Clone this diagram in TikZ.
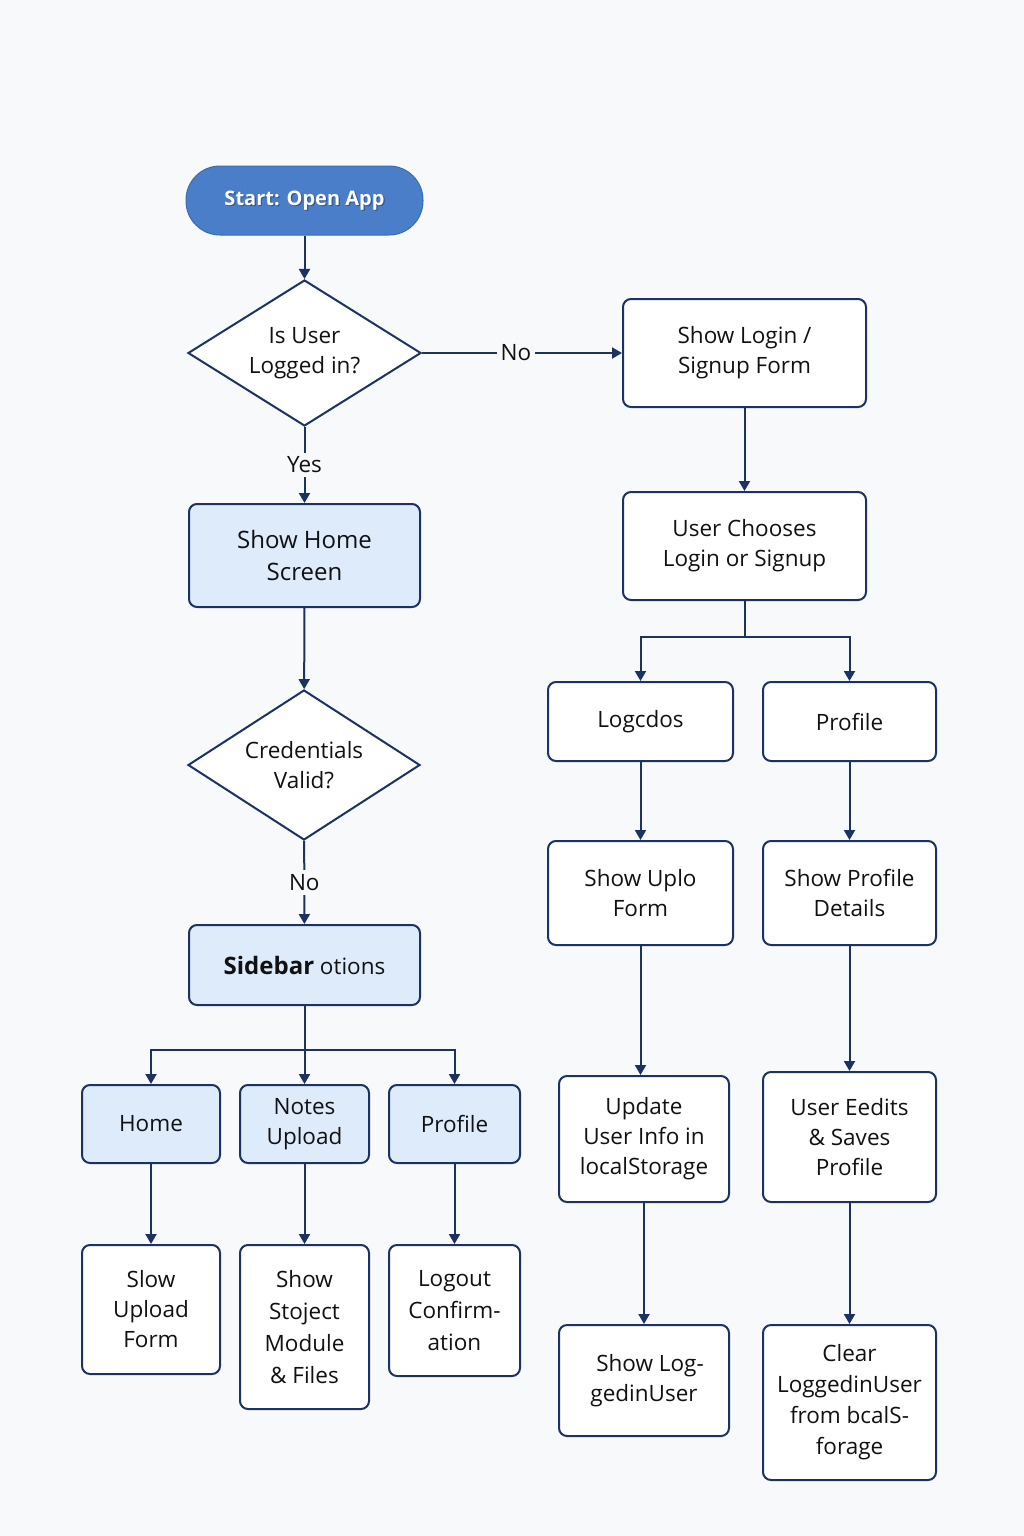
\documentclass[tikz,border=0pt]{standalone}
\usepackage{fontspec}
\setmainfont{Open Sans}
\usetikzlibrary{shapes.geometric,arrows.meta}
\definecolor{ink}{HTML}{1B3262}
\definecolor{paper}{HTML}{F8F9FA}
\definecolor{pale}{HTML}{DEEBFB}
\definecolor{startblue}{HTML}{4A7EC8}
\definecolor{startedge}{HTML}{3C6CB4}
\definecolor{txt}{HTML}{111111}
\begin{document}
\begin{tikzpicture}[x=1pt,y=-1pt,
  base/.style={font=\fontsize{22.5}{30}\selectfont, text=txt, align=center},
  box/.style={base, draw=ink, line width=2pt, rounded corners=8pt, fill=white, inner sep=0pt},
  hi/.style={box, fill=pale},
  decision/.style={base, diamond, shape aspect=1.6, draw=ink, line width=2pt, fill=white, inner sep=0pt},
  conn/.style={draw=ink, line width=2pt},
  arr/.style={conn, -{Triangle[length=10pt,width=11pt]}},
  lbl/.style={base, fill=paper, inner sep=4pt}]
% page
\fill[paper] (0,0) rectangle (1024,1536);
\useasboundingbox (0,0) rectangle (1024,1536);

% start terminal
\node[draw=startedge, line width=1pt, fill=startblue, rounded corners=34pt,
      minimum width=237, minimum height=69, inner sep=0pt] (start) at (304.5,200.5) {};
\node[font=\fontsize{20}{24}\selectfont\bfseries, text=ink, opacity=0.55] (startshadow)
      at ([shift={(1.2,1.6)}]start.center) {Start: Open App};
\node[font=\fontsize{20}{24}\selectfont\bfseries, text=white] (starttext)
      at (start.center) {Start: Open App};

% left column
\node[decision, minimum width=233, minimum height=146] (logged) at (304.5,353) {Is User\\Logged in?};
\node[hi, font=\fontsize{24}{32}\selectfont, minimum width=231, minimum height=103] (homescr) at (304.5,555.5) {Show Home\\Screen};
\node[decision, minimum width=232, minimum height=150] (cred) at (304,765) {Credentials\\Valid?};
\node[hi, minimum width=231, minimum height=80] (sidebar) at (304.5,965)
      {{\fontsize{24}{30}\selectfont\bfseries Sidebar} otions};

\node[hi, minimum width=138, minimum height=78] (home) at (151,1124) {Home};
\node[hi, minimum width=129, minimum height=78] (notes) at (304.5,1124) {Notes\\Upload};
\node[hi, minimum width=131, minimum height=78] (prof) at (454.5,1124) {Profile};

\node[box, minimum width=138, minimum height=129] (slow) at (151,1309.5) {Slow\\Upload\\Form};
\node[box, minimum width=129, minimum height=164, font=\fontsize{22.5}{32}\selectfont] (stoject) at (304.5,1327) {Show\\Stoject\\Module\\\& Files};
\node[box, minimum width=131, minimum height=131, font=\fontsize{22.5}{32}\selectfont] (logout) at (454.5,1310.5) {Logout\\Confirm-\\ation};

% right column
\node[box, minimum width=243, minimum height=108] (login) at (744.5,353) {Show Login /\\Signup Form};
\node[box, minimum width=243, minimum height=108] (choose) at (744.5,546) {User Chooses\\Login or Signup};

\node[box, minimum width=185, minimum height=79] (logc) at (640.5,721.5) {Logcdos};
\node[box, minimum width=173, minimum height=79] (profr) at (849.5,721.5) {Profile};

\node[box, minimum width=185, minimum height=104] (upl) at (640.5,893) {Show Uplo\\Form};
\node[box, minimum width=173, minimum height=104] (details) at (849.5,893) {Show Profile\\Details};

\node[box, minimum width=170, minimum height=126] (update) at (644,1139) {Update\\User Info in\\localStorage};
\node[box, minimum width=173, minimum height=130] (edits) at (849.5,1137) {User Eedits\\\& Saves\\Profile};

\node[box, minimum width=170, minimum height=111] (showlog) at (644,1380.5) {\hspace*{12pt}Show Log-\\gedinUser};
\node[box, minimum width=173, minimum height=155, font=\fontsize{22.5}{31}\selectfont] (clear) at (849.5,1402.5) {Clear\\LoggedinUser\\from bcalS-\\forage};

% split points of the branching connectors
\coordinate (splitR) at (744.5,637);
\coordinate (splitL) at (304.5,1050);

% connectors
\draw[arr] (start) -- (logged);
\draw[arr] (logged) -- node[lbl, pos=0.47] (nolbl) {No} (login);
\draw[arr] (logged) -- node[lbl] (yeslbl) {Yes} (homescr);
\draw[arr] (homescr) -- (cred);
\draw[arr] (cred) -- node[lbl] (nolbl2) {No} (sidebar);

\draw[conn] (sidebar) -- (splitL);
\draw[arr] (splitL) -| (home);
\draw[arr] (splitL) -- (notes);
\draw[arr] (splitL) -| (prof);
\draw[arr] (home) -- (slow);
\draw[arr] (notes) -- (stoject);
\draw[arr] (prof) -- (logout);

\draw[arr] (login) -- (choose);
\draw[conn] (choose) -- (splitR);
\draw[arr] (splitR) -| (logc);
\draw[arr] (splitR) -| (profr);
\draw[arr] (logc) -- (upl);
\draw[arr] (profr) -- (details);
\draw[arr] (upl.south) -- (upl.south |- update.north);
\draw[arr] (details) -- (edits);
\draw[arr] (update.south) -- (update.south |- showlog.north);
\draw[arr] (edits) -- (clear);
\end{tikzpicture}
\end{document}
